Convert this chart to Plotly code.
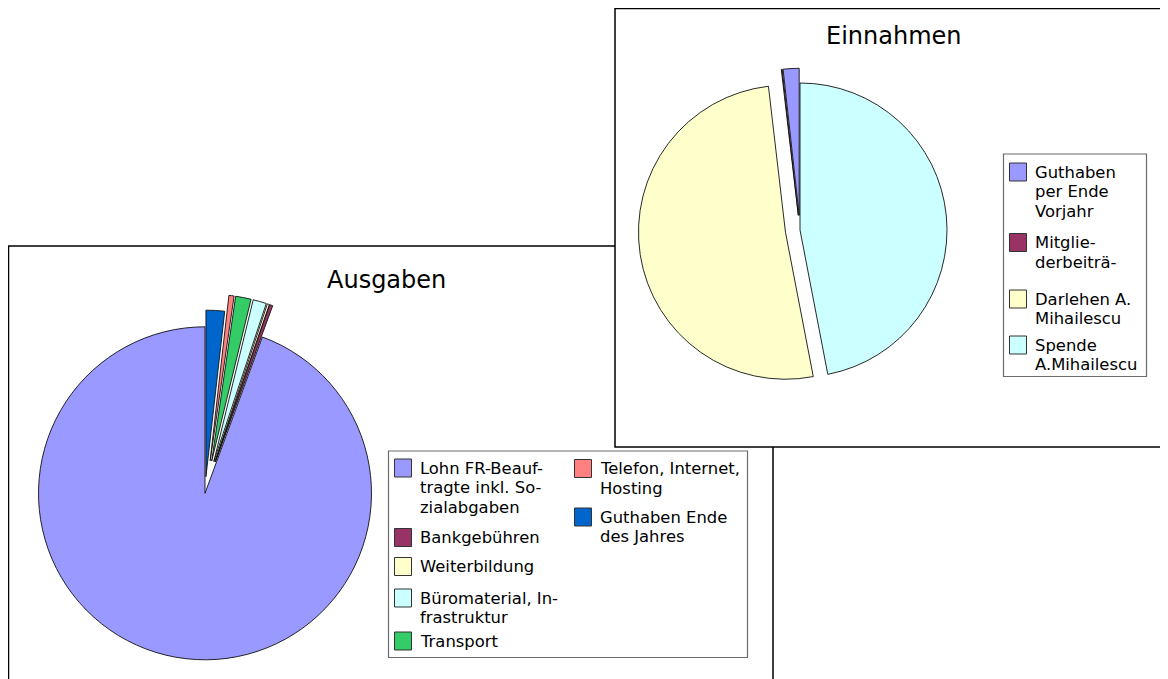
import math
import plotly.graph_objects as go

# window size and default page margin of the html body (8px)
WIN_W, WIN_H = 1168, 679
OFF = 8
W, H = WIN_W, WIN_H

# ---------------- data ----------------
aus_title = "Ausgaben"
aus_labels = ["Lohn FR-Beauftragte inkl. Sozialabgaben", "Bankgebühren", "Weiterbildung",
              "Büromaterial, Infrastruktur", "Transport", "Telefon, Internet, Hosting",
              "Guthaben Ende des Jahres"]
aus_values = [94.4, 0.3, 0.2, 1.3, 1.5, 0.5, 1.8]
aus_colors = ["#9999ff", "#993366", "#ffffcc", "#ccffff", "#33cc66", "#ff8080", "#0066cc"]
aus_legend_lines = [["Lohn FR-Beauf-", "tragte inkl. So-", "zialabgaben"],
                    ["Bankgebühren"], ["Weiterbildung"],
                    ["Büromaterial, In-", "frastruktur"], ["Transport"],
                    ["Telefon, Internet,", "Hosting"], ["Guthaben Ende", "des Jahres"]]

ein_title = "Einnahmen"
ein_labels = ["Guthaben per Ende Vorjahr", "Mitgliederbeiträge", "Darlehen A. Mihailescu",
              "Spende A.Mihailescu"]
ein_values = [1.75, 0.1, 51.18, 46.97]
ein_colors = ["#9999ff", "#993366", "#ffffcc", "#ccffff"]
ein_legend_lines = [["Guthaben", "per Ende", "Vorjahr"], ["Mitglie-", "derbeiträ-"],
                    ["Darlehen A.", "Mihailescu"], ["Spende", "A.Mihailescu"]]

# ---------------- helpers ----------------
FONT = "DejaVu Sans"
TRANSP = "rgba(0,0,0,0)"


def fx(x):  # screen pixel -> paper
    return (x - OFF) / W


def fy(y):
    return 1 - (y - OFF) / H


def domain(cx, cy, half):
    return dict(x=[fx(cx - half), fx(cx + half)], y=[fy(cy + half), fy(cy - half)])


def pie(values, labels, colors, visible, pulls, cx, cy, r):
    # slices start at 12 o'clock and follow counterclockwise in data order:
    # drawn clockwise with the order reversed
    rv = lambda a: list(a)[::-1]
    maxpull = max(pulls)
    half = r * (1 + maxpull)
    return go.Pie(
        values=rv(values), labels=rv(labels), sort=False, direction="clockwise", rotation=0,
        pull=rv(pulls), textinfo="none", showlegend=False, hoverinfo="label+percent",
        marker=dict(colors=rv([c if v else TRANSP for c, v in zip(colors, visible)]),
                    line=dict(color="#111111", width=rv([0.9 if v else 0 for v in visible]))),
        domain=domain(cx, cy, half),
    )


fig = go.Figure()

# Ausgaben pie: main slice + (less exploded) end balance slice
A_CX, A_CY, A_R = 205, 493.3, 166.5
n = len(aus_values)
visA = [i == 0 or i == n - 1 for i in range(n)]
pullA = [0.1 if i == n - 1 else 0 for i in range(n)]
fig.add_trace(pie(aus_values, aus_labels, aus_colors, visA, pullA, A_CX, A_CY, A_R))

# Ausgaben pie: strongly exploded small slices
shift, ang = 8, math.radians(14)
visB = [not v for v in visA]
pullB = [0.15 if v else 0 for v in visB]
fig.add_trace(pie(aus_values, aus_labels, aus_colors, visB, pullB,
                  A_CX + shift * math.sin(ang), A_CY - shift * math.cos(ang), A_R))

# Einnahmen pie
E_CX, E_CY, E_R = 800, 230, 147
pullE = [0.1, 0.1, 0.1, 0]
fig.add_trace(pie(ein_values, ein_labels, ein_colors, [True] * 4, pullE, E_CX, E_CY, E_R))

shapes = []
annotations = []


def rect(x0, y0, x1, y1, fill, line, width, layer="below"):
    shapes.append(dict(type="rect", xref="paper", yref="paper",
                       x0=fx(x0), x1=fx(x1), y0=fy(y1), y1=fy(y0),
                       fillcolor=fill, line=dict(color=line, width=width), layer=layer))


def text(x, y, s, size, anchor="left"):
    annotations.append(dict(x=fx(x), y=fy(y), xref="paper", yref="paper", text=s,
                            showarrow=False, xanchor=anchor, yanchor="middle",
                            font=dict(family=FONT, size=size, color="#000000")))


# chart boxes
rect(8.5, 246, 773, 720, "white", "#000000", 1.5)
rect(615, 8.6, 1200, 447, "white", "#000000", 1.5)

# titles
text(386, 280, aus_title, 24, "center")
text(894, 36, ein_title, 24, "center")

LS = 19.7
SW = 18


def legend_entry(sx, tx, cy, color, lines):
    rect(sx, cy - SW / 2, sx + SW - 1, cy + SW / 2, color, "#333333", 1, layer="above")
    for k, ln in enumerate(lines):
        text(tx, cy + k * LS, ln, 16.4)


# Ausgaben legend
rect(388.5, 451, 747.5, 657.5, "white", "#6b6b6b", 1.2)
col1_y = [468, 537.5, 566.5, 598, 641]
col2_y = [468.5, 517]
for i in range(5):
    legend_entry(394.5, 417.5, col1_y[i], aus_colors[i], aus_legend_lines[i])
for j in range(2):
    legend_entry(574.5, 598, col2_y[j], aus_colors[5 + j], aus_legend_lines[5 + j])

# Einnahmen legend
rect(1003.5, 154, 1146.5, 376.5, "white", "#6b6b6b", 1.2)
ein_y = [172, 242.5, 299, 345]
for i in range(4):
    legend_entry(1009.5, 1032.5, ein_y[i], ein_colors[i], ein_legend_lines[i])

fig.update_layout(
    width=W, height=H, margin=dict(l=0, r=0, t=0, b=0),
    paper_bgcolor="white", plot_bgcolor="white",
    shapes=shapes, annotations=annotations, showlegend=False,
)

fig.write_html("out.html")
